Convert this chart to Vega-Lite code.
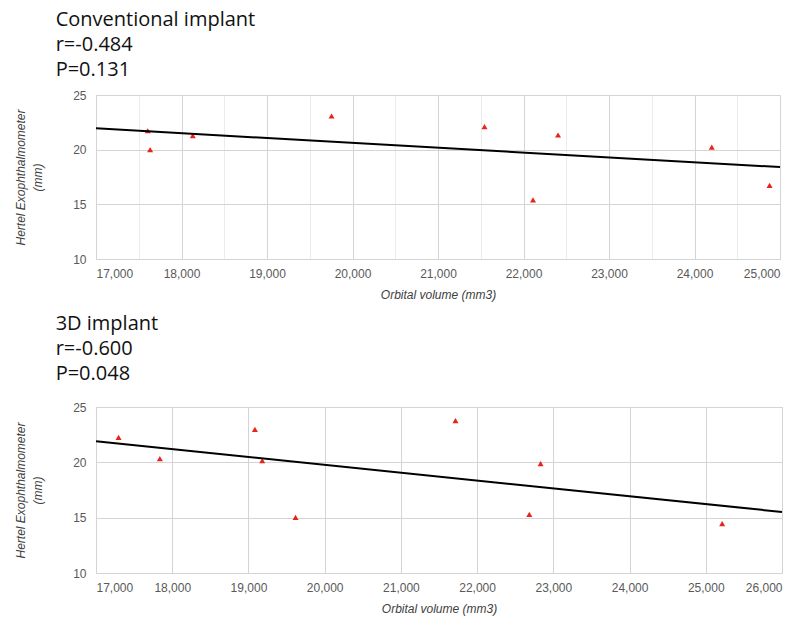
{
  "$schema": "https://vega.github.io/schema/vega-lite/v6.json",
  "background": "white",
  "padding": {"left": 14, "top": 9, "right": 4, "bottom": 4},
  "spacing": 12,
  "config": {
    "font": "Open Sans",
    "view": {"stroke": "#d9d9d9", "strokeWidth": 1},
    "axis": {
      "domain": false,
      "ticks": false,
      "labelFont": "Liberation Sans",
      "labelFontSize": 12,
      "labelColor": "#595959",
      "titleFont": "Liberation Sans",
      "titleFontSize": 12,
      "titleFontStyle": "italic",
      "titleFontWeight": "normal",
      "titleColor": "#404040",
      "titleLineHeight": 17,
      "gridColor": {"condition": {"test": "datum.value % (datum.value > 100 ? 1000 : 5) === 0", "value": "#d4d4d4"}, "value": "#ececec"},
      "gridWidth": 1
    },
    "title": {
      "anchor": "start",
      "frame": "bounds",
      "font": "Open Sans",
      "fontSize": 20,
      "fontWeight": "normal",
      "color": "#111111",
      "lineHeight": 25,
      "dx": 41,
      "offset": 9
    }
  },
  "datasets": {
    "conventional": [
      {"volume": 17605, "hertel": 21.73},
      {"volume": 17633, "hertel": 20.0},
      {"volume": 18132, "hertel": 21.28},
      {"volume": 19755, "hertel": 23.08},
      {"volume": 21544, "hertel": 22.1},
      {"volume": 22404, "hertel": 21.34},
      {"volume": 22111, "hertel": 15.4},
      {"volume": 24202, "hertel": 20.24},
      {"volume": 24878, "hertel": 16.74}
    ],
    "implant3d": [
      {"volume": 17296, "hertel": 22.25},
      {"volume": 17838, "hertel": 20.33},
      {"volume": 19085, "hertel": 22.98},
      {"volume": 19181, "hertel": 20.15},
      {"volume": 19618, "hertel": 15.03},
      {"volume": 21716, "hertel": 23.76},
      {"volume": 22833, "hertel": 19.88},
      {"volume": 22685, "hertel": 15.3},
      {"volume": 25215, "hertel": 14.46}
    ]
  },
  "vconcat": [
    {
      "title": {"text": ["Conventional implant", "r=-0.484", "P=0.131"]},
      "width": 684,
      "height": 164,
      "data": {"name": "conventional"},
      "layer": [
        {
          "mark": {"type": "point", "shape": "triangle-up", "filled": true, "color": "#e8231c", "size": 36, "opacity": 1},
          "encoding": {
            "x": {"field": "volume", "type": "quantitative", "scale": {"domain": [17000, 25000], "nice": false, "zero": false},
              "axis": {"title": "Orbital volume (mm3)", "values": [17000,17500,18000,18500,19000,19500,20000,20500,21000,21500,22000,22500,23000,23500,24000,24500,25000],
                "labelExpr": "datum.value % 1000 === 0 ? format(datum.value, ',') : ''", "labelPadding": 9, "titlePadding": 10}},
            "y": {"field": "hertel", "type": "quantitative", "scale": {"domain": [10, 25], "nice": false, "zero": false},
              "axis": {"title": ["Hertel Exophthalmometer", "(mm)"], "values": [10,12.5,15,17.5,20,22.5,25],
                "labelExpr": "datum.value % 5 === 0 ? datum.value : ''", "labelPadding": 10, "titlePadding": 28}}
          }
        },
        {
          "transform": [{"regression": "hertel", "on": "volume", "extent": [17000, 25000]}],
          "mark": {"type": "line", "color": "#000000", "strokeWidth": 2},
          "encoding": {
            "x": {"field": "volume", "type": "quantitative"},
            "y": {"field": "hertel", "type": "quantitative"}
          }
        }
      ]
    },
    {
      "title": {"text": ["3D implant", "r=-0.600", "P=0.048"], "offset": 17},
      "width": 686,
      "height": 166,
      "data": {"name": "implant3d"},
      "layer": [
        {
          "mark": {"type": "point", "shape": "triangle-up", "filled": true, "color": "#e8231c", "size": 36, "opacity": 1},
          "encoding": {
            "x": {"field": "volume", "type": "quantitative", "scale": {"domain": [17000, 26000], "nice": false, "zero": false},
              "axis": {"title": "Orbital volume (mm3)", "values": [17000,17500,18000,18500,19000,19500,20000,20500,21000,21500,22000,22500,23000,23500,24000,24500,25000,25500,26000],
                "labelExpr": "datum.value % 1000 === 0 ? format(datum.value, ',') : ''", "labelPadding": 9, "titlePadding": 10}},
            "y": {"field": "hertel", "type": "quantitative", "scale": {"domain": [10, 25], "nice": false, "zero": false},
              "axis": {"title": ["Hertel Exophthalmometer", "(mm)"], "values": [10,12.5,15,17.5,20,22.5,25],
                "labelExpr": "datum.value % 5 === 0 ? datum.value : ''", "labelPadding": 10, "titlePadding": 28}}
          }
        },
        {
          "transform": [{"regression": "hertel", "on": "volume", "extent": [17000, 26000]}],
          "mark": {"type": "line", "color": "#000000", "strokeWidth": 2},
          "encoding": {
            "x": {"field": "volume", "type": "quantitative"},
            "y": {"field": "hertel", "type": "quantitative"}
          }
        }
      ]
    }
  ]
}
